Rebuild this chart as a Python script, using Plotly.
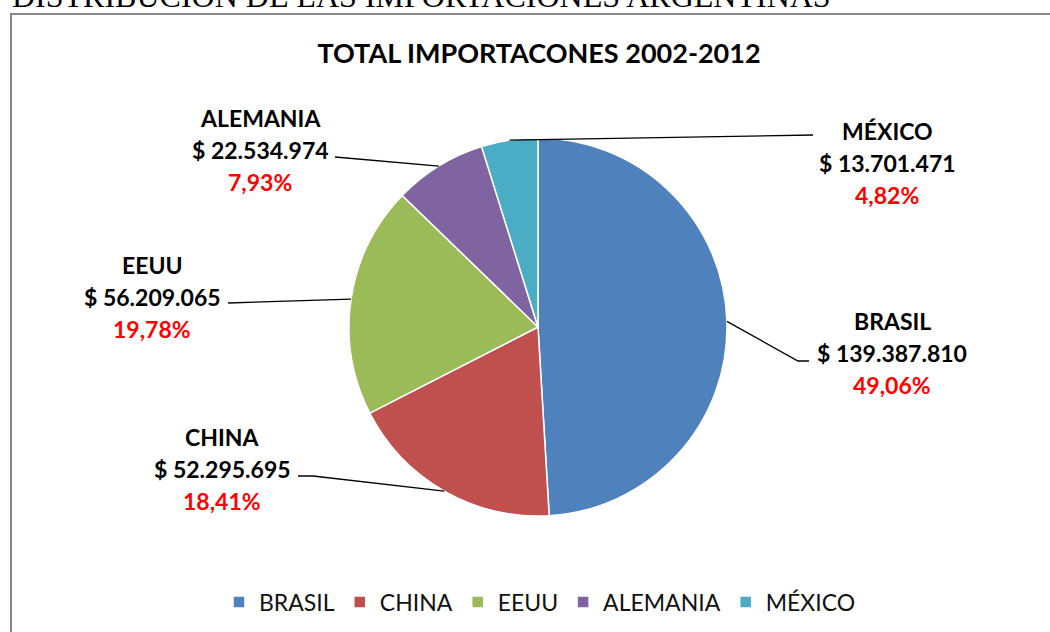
import math
import plotly.graph_objects as go

# importaciones argentinas 2002-2012 (USD)
paises = ['BRASIL', 'CHINA', 'EEUU', 'ALEMANIA', 'MÉXICO']
importaciones = [139387810, 52295695, 56209065, 22534974, 13701471]
colores = ['#4F81BD', '#C0504D', '#9BBB59', '#8064A2', '#4BACC6']

W, H = 1050, 632
# pie placement in pixels
CX, CY, R = 538, 327, 189

# label centre (x, y of first line) and start of the leader line
etiqueta_pos = {
    'BRASIL': (892, 321, [(809, 361), (798, 361)]),
    'CHINA': (222, 437, [(298, 476), (313, 476)]),
    'EEUU': (152, 265, [(228, 303)]),
    'ALEMANIA': (260, 118, [(335, 157)]),
    'MÉXICO': (887, 131, [(813, 135)]),
}


def px(x):
    return x / W


def py(y):
    return 1 - y / H


total = sum(importaciones)

fig = go.Figure(go.Pie(
    labels=paises,
    values=importaciones,
    marker=dict(colors=colores, line=dict(color='white', width=1.5)),
    sort=False,
    direction='clockwise',
    rotation=0,
    textinfo='none',
    domain=dict(x=[px(CX - R), px(CX + R)], y=[py(CY + R), py(CY - R)]),
))

annotations = []
shapes = []
acum = 0
for pais, v in zip(paises, importaciones):
    mid = (acum + v / 2) / total
    acum += v
    ang = 2 * math.pi * mid
    ex = CX + R * math.sin(ang)
    ey = CY - R * math.cos(ang)

    lx, ly, pts = etiqueta_pos[pais]
    pts = pts + [(ex, ey)]
    path = 'M ' + ' L '.join(f'{px(a)},{py(b)}' for a, b in pts)
    shapes.append(dict(type='path', xref='paper', yref='paper', path=path,
                       line=dict(color='black', width=1.3)))

    pct = f'{v / total * 100:.2f}'.replace('.', ',') + '%'
    monto = '$ ' + f'{v:,}'.replace(',', '.')
    for i, (txt, col) in enumerate([(pais, 'black'), (monto, 'black'), (pct, '#FF0000')]):
        annotations.append(dict(
            x=px(lx), y=py(ly + i * 32), xref='paper', yref='paper',
            text=f'<b>{txt}</b>', showarrow=False, xanchor='center', yanchor='middle',
            font=dict(family='Lato', size=23, color=col)))

# clipped heading from the source document
annotations.append(dict(
    x=px(10), y=py(-4), xref='paper', yref='paper', xanchor='left', yanchor='middle',
    text='DISTRIBUCIÓN DE LAS IMPORTACIONES ARGENTINAS', showarrow=False,
    font=dict(family='Liberation Serif', size=32, color='black')))

# chart frame
shapes.append(dict(type='rect', xref='paper', yref='paper',
                   x0=px(11), x1=1.05, y0=-0.05, y1=py(14),
                   line=dict(color='#878787', width=2)))

fig.update_layout(
    width=W, height=H,
    margin=dict(l=0, r=0, t=0, b=0),
    paper_bgcolor='white',
    title=dict(text='<b>TOTAL IMPORTACONES 2002-2012</b>', x=px(539), y=py(54),
               xanchor='center', yanchor='middle',
               font=dict(family='Lato', size=27, color='black')),
    legend=dict(orientation='h', x=px(540), y=py(602), xanchor='center', yanchor='middle',
                font=dict(family='Lato', size=23, color='#111111')),
    annotations=annotations,
    shapes=shapes,
)

fig.write_html('out.html', config={'displayModeBar': False},
               post_script="document.body.style.margin='0';")
